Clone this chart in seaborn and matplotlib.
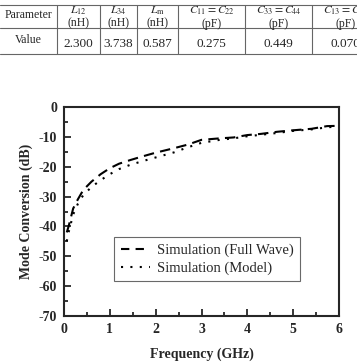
import numpy as np
import pandas as pd
import seaborn as sns
import matplotlib
matplotlib.use("Agg")
import matplotlib.pyplot as plt
from matplotlib.lines import Line2D

# table values
TABLE_HEADERS = ["Parameter", "$L_{12}$\n(nH)", "$L_{34}$\n(nH)", "$L_{\\rm m}$\n(nH)",
                 "$C_{11} = C_{22}$\n(pF)", "$C_{33} = C_{44}$\n(pF)", "$C_{13} = C_{24}$\n(pF)"]
TABLE_VALUES = ["Value", "2.300", "3.738", "0.587", "0.275", "0.449", "0.070"]

# curve data
freq_full = [0.06, 0.1, 0.2, 0.3, 0.42, 0.6, 0.8, 1.0, 1.2, 1.44, 1.7, 2.0, 2.4, 2.7, 3.0,
             3.4, 3.7, 4.0, 4.3, 4.65, 5.0, 5.4, 5.74, 6.0]
mc_full = [-42.0, -40.0, -34.0, -31.0, -27.8, -25.0, -22.5, -20.5, -19.0, -17.8, -16.6, -15.3,
           -13.8, -12.6, -11.0, -10.5, -10.2, -9.4, -9.0, -8.3, -7.8, -7.3, -6.4, -6.3]
freq_model = [0.06, 0.1, 0.2, 0.3, 0.42, 0.6, 0.8, 1.0, 1.2, 1.44, 1.7, 2.0, 2.4, 2.7, 3.0,
              3.4, 3.7, 4.0, 4.3, 4.65, 5.0, 5.4, 5.74, 6.0]
mc_model = [-45.0, -42.0, -36.0, -32.5, -29.5, -26.8, -24.5, -22.5, -20.8, -19.4, -18.2, -16.9,
            -15.2, -13.5, -12.0, -11.0, -10.5, -9.8, -9.3, -8.7, -8.0, -7.5, -6.8, -6.5]

LABEL_FULL = "Simulation (Full Wave)"
LABEL_MODEL = "Simulation (Model)"

df = pd.concat([
    pd.DataFrame({"freq": freq_full, "mc": mc_full, "curve": LABEL_FULL}),
    pd.DataFrame({"freq": freq_model, "mc": mc_model, "curve": LABEL_MODEL}),
], ignore_index=True)

sns.set_style("ticks")
plt.rcParams["font.family"] = ["Liberation Serif", "DejaVu Serif"]
plt.rcParams["mathtext.fontset"] = "stix"

fig = plt.figure(figsize=(3.57, 3.64), dpi=100)

# --- table drawn in figure pixel coordinates
W, H = 357.0, 364.0
tab = fig.add_axes([0, 0, 1, 1])
tab.set_xlim(0, W)
tab.set_ylim(H, 0)
tab.axis("off")
col_edges = [0, 57, 100, 137, 178, 245, 312, 379]
row_edges = [5, 28, 54]
for y in row_edges:
    tab.plot([0, W], [y, y], color="#666666", lw=0.8)
for x in col_edges[1:-1]:
    tab.plot([x, x], [row_edges[0], row_edges[-1]], color="#666666", lw=0.8)
for i, (h, v) in enumerate(zip(TABLE_HEADERS, TABLE_VALUES)):
    cx = (col_edges[i] + col_edges[i + 1]) / 2
    if i == 0:
        tab.text(cx, 15, h, ha="center", va="center", fontsize=8.5)
        tab.text(cx, 40, v, ha="center", va="center", fontsize=8.5)
    else:
        top, bot = h.split("\n")
        tab.text(cx, 11, top, ha="center", va="center", fontsize=8.5)
        tab.text(cx, 23.5, bot, ha="center", va="center", fontsize=8.5)
        tab.text(cx, 44, v, ha="center", va="center", fontsize=9.5)

# --- chart
ax = fig.add_axes([64 / W, 1 - 316 / H, 275 / W, 209 / H])
sns.lineplot(data=df, x="freq", y="mc", style="curve", ax=ax, color="black",
             dashes={LABEL_FULL: (5, 3), LABEL_MODEL: (1, 3.5)}, linewidth=1.5,
             legend=False, sort=False)

ax.set_xlim(0, 6)
ax.set_ylim(-70, 0)
ax.set_xticks(range(0, 7))
ax.set_xticks(np.arange(0.5, 6, 1.0), minor=True)
ax.set_yticks(range(-70, 1, 10))
ax.set_yticks(range(-65, 0, 10), minor=True)
ax.set_yticklabels(["-70", "-60", "-50", "-40", "-30", "-20", "-10", "0"])
ax.tick_params(which="both", direction="in", width=1.3, top=False, right=False)
ax.tick_params(which="major", length=5, labelsize=10, pad=5)
ax.tick_params(which="minor", length=3)
for lab in ax.get_xticklabels() + ax.get_yticklabels():
    lab.set_fontweight("bold")
for s in ax.spines.values():
    s.set_linewidth(1.5)
ax.set_xlabel("Frequency (GHz)", fontsize=10, fontweight="bold", labelpad=8)
ax.set_ylabel("Mode Conversion (dB)", fontsize=10, fontweight="bold", labelpad=4)

handles = [
    Line2D([], [], color="black", lw=1.5, dashes=(4, 3)),
    Line2D([], [], color="black", lw=1.5, dashes=(1, 3.5)),
]
leg = ax.legend(handles, [LABEL_FULL, LABEL_MODEL], loc="upper left",
                bbox_to_anchor=(50 / 275, 1 - 130 / 209), fontsize=10.5, frameon=True,
                fancybox=False, edgecolor="#444444", handlelength=2.0,
                borderpad=0.45, labelspacing=0.3, handletextpad=0.5, borderaxespad=0)
leg.get_frame().set_linewidth(0.8)

fig.savefig("out.png", dpi=100)
